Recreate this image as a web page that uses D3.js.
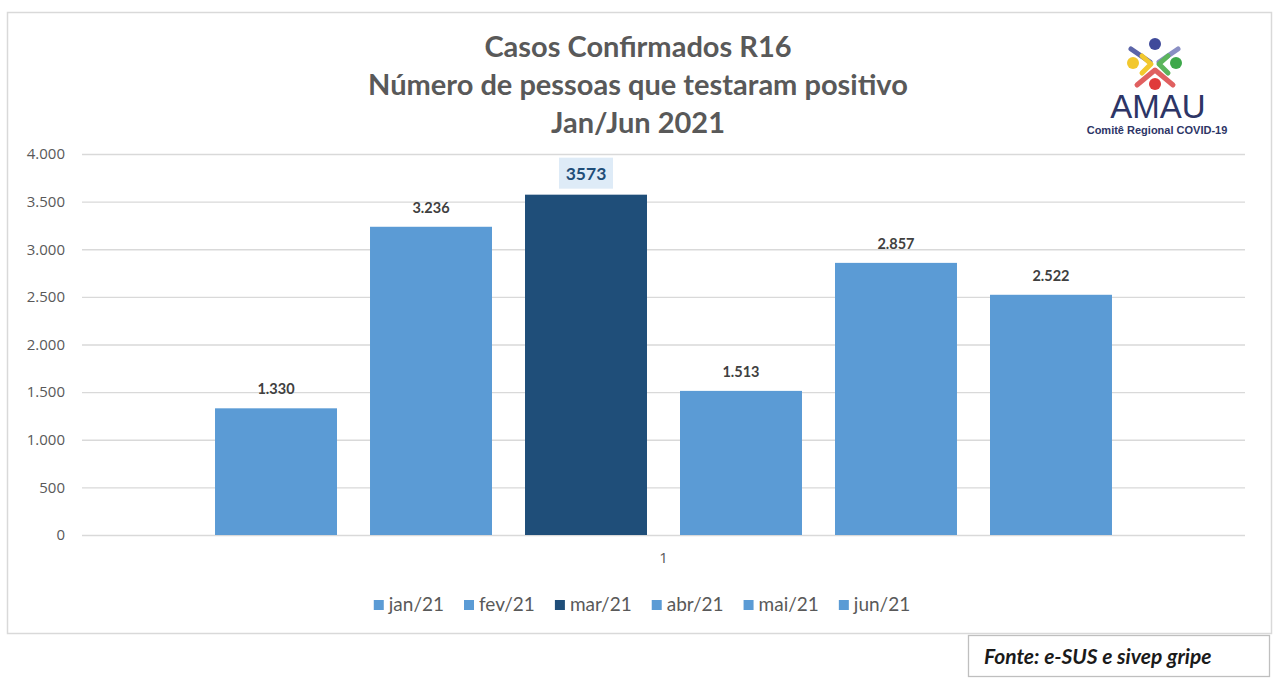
<!DOCTYPE html>
<html><head><meta charset="utf-8">
<script src="https://cdn.jsdelivr.net/npm/d3@7"></script>
<style>
html,body{margin:0;padding:0;background:#fff;}
svg{display:block;font-family:Lato,"Open Sans",sans-serif;}
</style></head>
<body><svg id="c" width="1280" height="680"></svg>
<script>
const categories = ["1"];
const seriesNames = ["jan/21","fev/21","mar/21","abr/21","mai/21","jun/21"];
const seriesValues = [1330, 3236, 3573, 1513, 2857, 2522];
const valueLabels = ["1.330","3.236","3573","1.513","2.857","2.522"];
const yTicks = [0,500,1000,1500,2000,2500,3000,3500,4000];
const yTickLabels = ["0","500","1.000","1.500","2.000","2.500","3.000","3.500","4.000"];
const titleLines = ["Casos Confirmados R16","Número de pessoas que testaram positivo","Jan/Jun 2021"];
const seriesColors = ["#5B9BD5","#5B9BD5","#1F4E79","#5B9BD5","#5B9BD5","#5B9BD5"];
const highlighted = [false,false,true,false,false,false];

const svg = d3.select("#c");
// outer frame
svg.append("rect").attr("x",7.5).attr("y",12.5).attr("width",1264).attr("height",621)
  .attr("fill","#fff").attr("stroke","#d9d9d9").attr("stroke-width",1.5);

const m = {left:82,right:1245,top:154,bottom:535};
const y = d3.scaleLinear().domain([0,4000]).range([m.bottom,m.top]);
const x0 = d3.scaleBand().domain(categories).range([m.left,m.right]).paddingOuter(0.1483);
const x1 = d3.scaleBand().domain(seriesNames).range([0,x0.bandwidth()]).paddingInner(0.213).paddingOuter(0);

// gridlines
const yAxis = d3.axisLeft(y).tickValues(yTicks).tickFormat((d,i)=>yTickLabels[i])
  .tickSize(-(m.right-m.left)).tickPadding(17);
const ga = svg.append("g").attr("transform",`translate(${m.left},0)`).call(yAxis);
ga.select(".domain").remove();
ga.selectAll(".tick line").attr("stroke","#d9d9d9").attr("stroke-width",1.3);
ga.selectAll(".tick text").attr("fill","#595959").style("font-size","15px").style("font-family","'Open Sans',sans-serif");

// bars
const g = svg.append("g").attr("transform",`translate(${x0(categories[0])},0)`);
g.selectAll("rect.bar").data(seriesValues).join("rect")
  .attr("x",(d,i)=>x1(seriesNames[i])).attr("width",x1.bandwidth())
  .attr("y",d=>y(d)).attr("height",d=>y(0)-y(d))
  .attr("fill",(d,i)=>seriesColors[i]);

// labels
seriesValues.forEach((v,i)=>{
  const cx = x1(seriesNames[i]) + x1.bandwidth()/2;
  if (highlighted[i]) {
    g.append("rect").attr("x",cx-27).attr("y",y(v)-37).attr("width",54).attr("height",31).attr("fill","#DEEBF7");
    g.append("text").attr("x",cx).attr("y",y(v)-15).attr("text-anchor","middle")
      .attr("fill","#1F4E79").style("font-size","17.5px").style("font-weight","bold").text(valueLabels[i]);
  } else {
    g.append("text").attr("x",cx).attr("y",y(v)-14).attr("text-anchor","middle")
      .attr("fill","#404040").style("font-size","14.5px").style("font-weight","bold").text(valueLabels[i]);
  }
});

// category axis label
const xAxis = d3.axisBottom(x0).tickSize(0).tickPadding(17);
const gx = svg.append("g").attr("transform",`translate(0,${m.bottom})`).call(xAxis);
gx.select(".domain").remove();
gx.selectAll(".tick text").attr("fill","#595959").style("font-size","15px").style("font-family","'Open Sans',sans-serif");

// title
svg.append("g").selectAll("text").data(titleLines).join("text")
  .attr("x",638).attr("y",(d,i)=>57+i*38).attr("text-anchor","middle")
  .attr("fill","#595959").style("font-size","29px").style("font-weight","bold").text(d=>d);

// legend
const lg = svg.append("g");
const items = lg.selectAll("g").data(seriesNames).join("g");
items.append("rect").attr("width",10).attr("height",10).attr("y",-11).attr("fill",(d,i)=>seriesColors[i]);
items.append("text").attr("x",15).attr("y",0).attr("fill","#595959")
  .style("font-size","19px").text(d=>d);
let xpos = 0; const widths=[];
items.each(function(){ widths.push(this.getBBox().width); });
items.attr("transform",(d,i)=>{ const t=`translate(${xpos},611)`; xpos += widths[i]+20; return t;});
const total = xpos-20;
lg.attr("transform",`translate(${642-total/2},0)`);

// logo
const logo = svg.append("g");
const chev = (pts,col,w)=>logo.append("polyline").attr("points",pts.map(p=>p.join(",")).join(" "))
  .attr("fill","none").attr("stroke",col).attr("stroke-width",w||5).attr("stroke-linecap","round").attr("stroke-linejoin","round");
chev([[1131,49],[1150,62]],"#5B64A8",5);
chev([[1178,49],[1159,62]],"#8A8FC4",5);
chev([[1142,56],[1151,64],[1142,73]],"#F2C82E",5);
chev([[1168,56],[1159,64],[1168,73]],"#5BB55B",5);
chev([[1137,85],[1155,70],[1173,85]],"#E06060",5);
logo.append("circle").attr("cx",1155).attr("cy",44).attr("r",6).attr("fill","#3F4A9A");
logo.append("circle").attr("cx",1133).attr("cy",63).attr("r",6).attr("fill","#F2C82E");
logo.append("circle").attr("cx",1176).attr("cy",63).attr("r",6).attr("fill","#3DA84A");
logo.append("circle").attr("cx",1155).attr("cy",84).attr("r",6).attr("fill","#E03A3A");
logo.append("text").attr("x",1158).attr("y",118).attr("text-anchor","middle").attr("fill","#2D3566")
  .style("font-family","'Liberation Sans',Arial,sans-serif").style("font-size","33px").text("AMAU");
logo.append("text").attr("x",1157).attr("y",134).attr("text-anchor","middle").attr("fill","#2D3566")
  .style("font-family","'Liberation Sans',Arial,sans-serif").style("font-size","11px").style("font-weight","bold").text("Comitê Regional COVID-19");

// source box
svg.append("rect").attr("x",968.5).attr("y",635.5).attr("width",301).attr("height",41)
  .attr("fill","#fff").attr("stroke","#bfbfbf").attr("stroke-width",1.3);
svg.append("text").attr("x",984).attr("y",664).attr("fill","#1a1a1a")
  .style("font-size","21px").style("font-weight","bold").style("font-style","italic").text("Fonte: e-SUS e sivep gripe");
</script></body></html>
